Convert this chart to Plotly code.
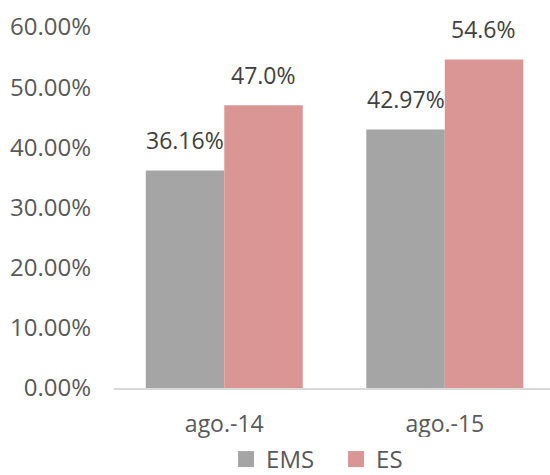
import plotly.graph_objects as go

categories = ["ago.-14", "ago.-15"]
ems_values = [0.3616, 0.4297]
es_values = [0.470, 0.546]
ems_labels = ["36.16%", "42.97%"]
es_labels = ["47.0%", "54.6%"]
y_ticks = [0, 0.1, 0.2, 0.3, 0.4, 0.5, 0.6]
y_tick_labels = ["0.00%", "10.00%", "20.00%", "30.00%", "40.00%", "50.00%", "60.00%"]

EMS_COLOR = "#A5A5A5"
ES_COLOR = "#DA9694"
FONT = "Open Sans"

fig = go.Figure()
fig.add_trace(go.Bar(x=categories, y=ems_values, name="EMS", marker_color=EMS_COLOR,
                     marker_line_width=0, showlegend=False))
fig.add_trace(go.Bar(x=categories, y=es_values, name="ES", marker_color=ES_COLOR,
                     marker_line_width=0, showlegend=False))
# legend entries with larger square symbols
for name, col in [("EMS", EMS_COLOR), ("ES", ES_COLOR)]:
    fig.add_trace(go.Scatter(x=[None], y=[None], mode="markers", name=name,
                             marker=dict(symbol="square", size=16, color=col)))

annotations = []
for cat, v, t in zip(categories, ems_values, ems_labels):
    annotations.append(dict(x=cat, y=v, text=t, xshift=-39, yshift=12, showarrow=False,
                            yanchor="bottom", font=dict(family=FONT, size=23, color="#404040")))
for cat, v, t in zip(categories, es_values, es_labels):
    annotations.append(dict(x=cat, y=v, text=t, xshift=39, yshift=12, showarrow=False,
                            yanchor="bottom", font=dict(family=FONT, size=23, color="#404040")))

fig.update_layout(
    width=550, height=475,
    margin=dict(l=114, r=0, t=27, b=87, autoexpand=False),
    paper_bgcolor="white", plot_bgcolor="white",
    barmode="group", bargap=0.288, bargroupgap=0,
    font=dict(family=FONT, size=23, color="#595959"),
    annotations=annotations,
    legend=dict(orientation="h", xref="container", x=0.411, xanchor="left",
                yref="paper", y=-0.198, yanchor="middle",
                font=dict(family=FONT, size=24, color="#595959"),
                itemwidth=30, tracegroupgap=0, entrywidth=65, entrywidthmode="pixels"),
    xaxis=dict(range=[-0.5, 1.477], showgrid=False, showline=True, linecolor="#D9D9D9",
               linewidth=2, ticks="", ticklabelstandoff=14, fixedrange=True, automargin=False),
    yaxis=dict(range=[0, 0.6], tickvals=y_ticks, ticktext=y_tick_labels, showgrid=False,
               zeroline=False, showline=False, ticks="", ticklabelstandoff=22,
               tickfont=dict(size=24), automargin=False, fixedrange=True),
)

fig.write_html("out.html", config={"displayModeBar": False},
               post_script="document.body.style.margin='0';document.body.style.overflow='hidden';")
